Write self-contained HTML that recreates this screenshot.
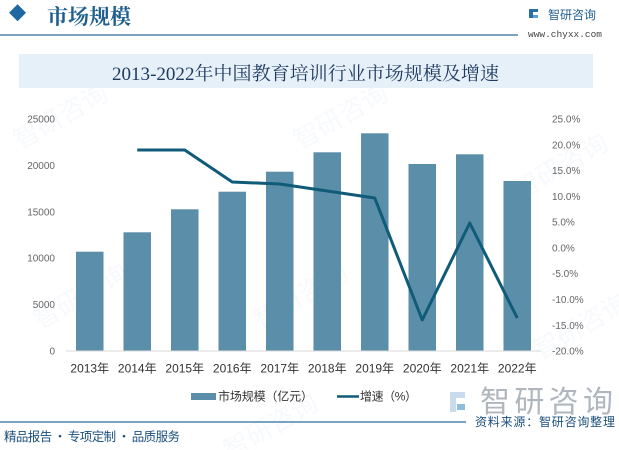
<!DOCTYPE html>
<html><head><meta charset="utf-8">
<style>
html,body{margin:0;padding:0;background:#fff;}
svg{display:block;}
text{font-family:"Liberation Sans","Noto Sans CJK SC",sans-serif;}
.serif{font-family:"Liberation Serif","Noto Serif CJK SC",serif;}
</style></head>
<body>
<svg width="619" height="450" viewBox="0 0 619 450" xmlns="http://www.w3.org/2000/svg">
<rect width="619" height="450" fill="#ffffff"/>
<!-- faint watermarks -->
<g fill="#eef3f8" opacity="0.5" font-size="26" font-family="Noto Sans CJK SC,sans-serif">
  <text x="20" y="150" transform="rotate(-30 20 150)">智研咨询</text>
  <text x="40" y="330" transform="rotate(-30 40 330)">智研咨询</text>
  <text x="260" y="330" transform="rotate(-30 260 330)">智研咨询</text>
  <text x="300" y="150" transform="rotate(-30 300 150)">智研咨询</text>
  <text x="520" y="200" transform="rotate(-30 520 200)">智研咨询</text>
  <text x="540" y="360" transform="rotate(-30 540 360)">智研咨询</text>
  <text x="230" y="460" transform="rotate(-30 230 460)">智研咨询</text>
</g>

<!-- header -->
<rect x="10" y="6.5" width="12" height="12" fill="#1f68a1" transform="rotate(45 16.5 14.5)"/>
<text x="47" y="24" font-size="21" font-weight="bold" fill="#1e5f8e" style="font-family:'Noto Serif CJK SC',serif">市场规模</text>
<line x1="0" y1="35" x2="518" y2="35" stroke="#2c6c9a" stroke-width="1.3"/>
<g>
  <rect x="529" y="9" width="4" height="9" fill="#2a6ea8"/>
  <rect x="533" y="9" width="5" height="3" fill="#2a6ea8"/>
  <rect x="533" y="15" width="5" height="3" fill="#5aa0d0"/>
</g>
<text x="548" y="19" font-size="12" fill="#1f5f8e" style="font-family:'Noto Sans CJK SC',sans-serif">智研咨询</text>
<text x="528" y="37" font-size="9.5" fill="#444" style="font-family:'Liberation Mono',monospace" textLength="74">www.chyxx.com</text>

<!-- title box -->
<rect x="19" y="54" width="574" height="34" fill="#e6f0f9"/>
<text x="305.5" y="80" text-anchor="middle" font-size="18.5" fill="#1f3a5f" style="font-family:'Liberation Serif','Noto Serif CJK SC',serif" textLength="387" lengthAdjust="spacingAndGlyphs">2013-2022年中国教育培训行业市场规模及增速</text>

<!-- left axis labels -->
<g font-size="10" fill="#666" text-anchor="end">
  <text x="55" y="122.5">25000</text>
  <text x="55" y="169">20000</text>
  <text x="55" y="215.3">15000</text>
  <text x="55" y="261.7">10000</text>
  <text x="55" y="308">5000</text>
  <text x="55" y="354.5">0</text>
</g>
<!-- right axis labels -->
<g font-size="10" fill="#666">
  <text x="552" y="122.5">25.0%</text>
  <text x="552" y="148.3">20.0%</text>
  <text x="552" y="174.1">15.0%</text>
  <text x="552" y="199.9">10.0%</text>
  <text x="552" y="225.7">5.0%</text>
  <text x="552" y="251.4">0.0%</text>
  <text x="552" y="277.2">-5.0%</text>
  <text x="552" y="303">-10.0%</text>
  <text x="552" y="328.8">-15.0%</text>
  <text x="552" y="354.5">-20.0%</text>
</g>

<!-- bars -->
<g fill="#5b8ea8">
  <rect x="76" y="251.7" width="27.5" height="99.3"/>
  <rect x="123.5" y="232.3" width="27.5" height="118.7"/>
  <rect x="171" y="209.3" width="27.5" height="141.7"/>
  <rect x="218.5" y="191.7" width="27.5" height="159.3"/>
  <rect x="266" y="171.7" width="27.5" height="179.3"/>
  <rect x="313.5" y="152.3" width="27.5" height="198.7"/>
  <rect x="361" y="133.3" width="27.5" height="217.7"/>
  <rect x="408.5" y="164" width="27.5" height="187"/>
  <rect x="456" y="154.3" width="27.5" height="196.7"/>
  <rect x="503.5" y="181" width="27.5" height="170"/>
</g>
<line x1="66" y1="351" x2="541" y2="351" stroke="#d9d9d9" stroke-width="1"/>

<!-- growth line -->
<polyline points="137.25,150 184.75,150 232.25,182 279.75,184 327.25,191 374.75,198 422.25,320 469.75,223 517.25,318" fill="none" stroke="#0f5b78" stroke-width="3" stroke-linejoin="round" stroke-linecap="butt"/>

<!-- x labels -->
<g font-size="12" fill="#333" text-anchor="middle">
  <text x="89.75" y="372.5">2013年</text>
  <text x="137.25" y="372.5">2014年</text>
  <text x="184.75" y="372.5">2015年</text>
  <text x="232.25" y="372.5">2016年</text>
  <text x="279.75" y="372.5">2017年</text>
  <text x="327.25" y="372.5">2018年</text>
  <text x="374.75" y="372.5">2019年</text>
  <text x="422.25" y="372.5">2020年</text>
  <text x="469.75" y="372.5">2021年</text>
  <text x="517.25" y="372.5">2022年</text>
</g>

<!-- legend -->
<rect x="191" y="393" width="25" height="7" fill="#5b8ea8"/>
<text x="218" y="400.5" font-size="12" fill="#333" textLength="95">市场规模（亿元）</text>
<line x1="337" y1="396.5" x2="359" y2="396.5" stroke="#0f5b78" stroke-width="2.5"/>
<text x="360" y="400.5" font-size="12" fill="#333" textLength="57">增速（%）</text>

<!-- footer watermark logo -->
<g>
  <rect x="450" y="392" width="6" height="20" fill="#c9dced"/>
  <rect x="456" y="392" width="9" height="6" fill="#c9dced"/>
  <rect x="457" y="404" width="8" height="6" fill="#8fbde0"/>
</g>
<text x="480" y="412" font-size="30" fill="#b0b6bd" textLength="133" style="font-family:'Noto Sans CJK SC',sans-serif">智研咨询</text>

<!-- footer -->
<line x1="0" y1="422" x2="466" y2="422" stroke="#2c6c9a" stroke-width="1.3"/>
<text x="475" y="426" font-size="12" fill="#1a4f7e" textLength="140" style="font-family:'Noto Sans CJK SC',sans-serif">资料来源：智研咨询整理</text>
<text x="4" y="441" font-size="12.5" fill="#1a4f7e" textLength="176" style="font-family:'Noto Sans CJK SC',sans-serif">精品报告 · 专项定制 · 品质服务</text>
</svg>
</body></html>
